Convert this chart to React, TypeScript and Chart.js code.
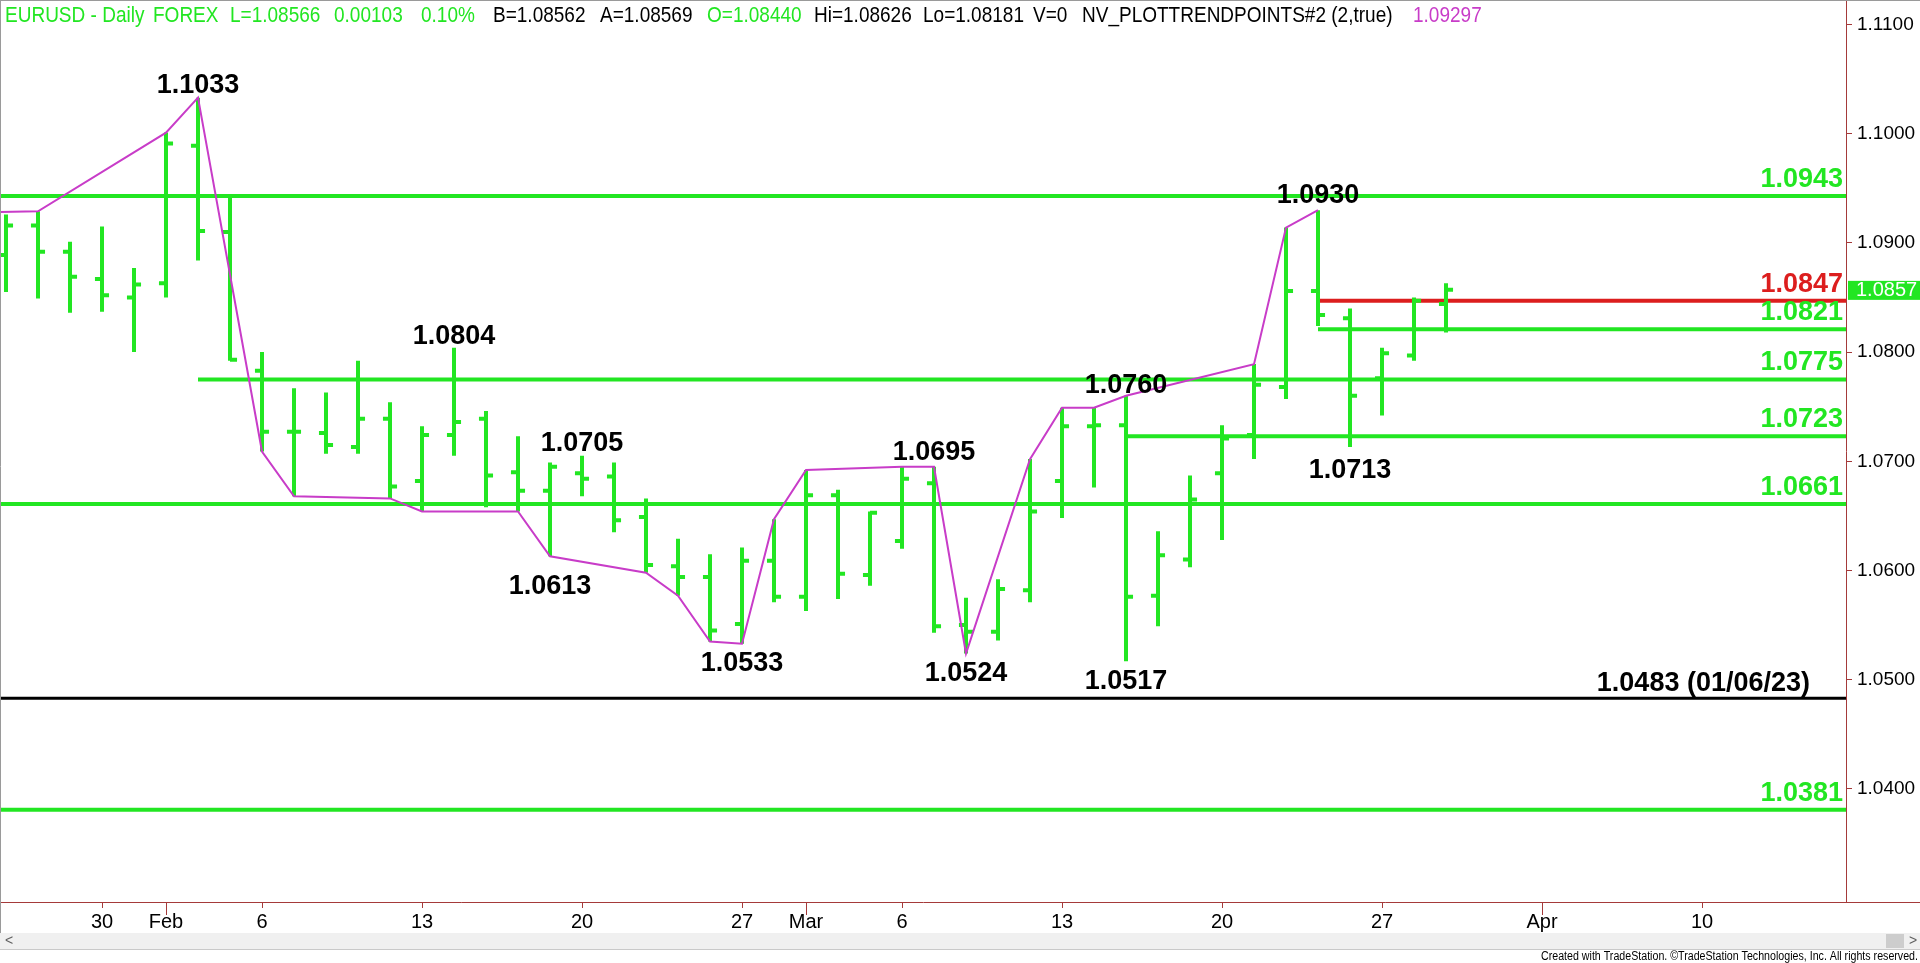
import React, { useEffect, useRef } from 'react';
import { Chart, registerables } from 'chart.js';

Chart.register(...registerables);

// ---------- data ----------
const dayLabels = ['Jan 25','Jan 26','Jan 27','Jan 30','Jan 31','Feb 1','Feb 2','Feb 3','Feb 6','Feb 7','Feb 8','Feb 9','Feb 10','Feb 13','Feb 14','Feb 15','Feb 16','Feb 17','Feb 20','Feb 21','Feb 22','Feb 23','Feb 24','Feb 27','Feb 28','Mar 1','Mar 2','Mar 3','Mar 6','Mar 7','Mar 8','Mar 9','Mar 10','Mar 13','Mar 14','Mar 15','Mar 16','Mar 17','Mar 20','Mar 21','Mar 22','Mar 23','Mar 24','Mar 27','Mar 28','Mar 29'];

const openPrices = [1.0889,1.0916,1.0892,1.0867,1.0850,1.0863,1.0989,1.0910,1.0783,1.0727,1.0726,1.0713,1.0739,1.0682,1.0724,1.0739,1.0690,1.0673,1.0689,1.0686,1.0649,1.0604,1.0594,1.0551,1.0609,1.0576,1.0669,1.0596,1.0627,1.0680,1.0550,1.0544,1.0582,1.0682,1.0732,1.0733,1.0577,1.0610,1.0689,1.0724,1.0768,1.0856,1.0831,1.0776,1.0797,1.0844];
const highPrices = [1.0926,1.0929,1.0901,1.0915,1.0877,1.1001,1.1033,1.0944,1.0800,1.0767,1.0763,1.0792,1.0754,1.0732,1.0804,1.0746,1.0723,1.0699,1.0705,1.0699,1.0666,1.0629,1.0615,1.0621,1.0647,1.0692,1.0674,1.0654,1.0695,1.0695,1.0575,1.0592,1.0702,1.0749,1.0749,1.0760,1.0636,1.0687,1.0733,1.0789,1.0914,1.0930,1.0840,1.0804,1.0850,1.0863];
const lowPrices = [1.0855,1.0849,1.0836,1.0837,1.0800,1.0850,1.0884,1.0792,1.0709,1.0668,1.0707,1.0707,1.0666,1.0654,1.0705,1.0658,1.0654,1.0613,1.0668,1.0635,1.0598,1.0577,1.0535,1.0533,1.0571,1.0563,1.0574,1.0586,1.0620,1.0543,1.0524,1.0536,1.0571,1.0648,1.0676,1.0517,1.0549,1.0603,1.0628,1.0702,1.0757,1.0824,1.0713,1.0742,1.0792,1.0818];
const closePrices = [1.0916,1.0892,1.0869,1.0852,1.0862,1.0991,1.0911,1.0793,1.0727,1.0727,1.0715,1.0739,1.0677,1.0724,1.0736,1.0687,1.0673,1.0695,1.0684,1.0646,1.0605,1.0594,1.0545,1.0609,1.0576,1.0669,1.0597,1.0653,1.0684,1.0549,1.0544,1.0583,1.0654,1.0732,1.0733,1.0576,1.0614,1.0665,1.0721,1.0770,1.0856,1.0834,1.0760,1.0799,1.0847,1.0857];

// trend-point line (bar index, price)
const trendIndex = [-1,1,5,6,8,9,12,13,16,17,20,21,22,23,24,25,28,29,30,32,33,34,35,39,40,41];
const trendValues = [1.0928,1.0929,1.1001,1.1033,1.0709,1.0668,1.0666,1.0654,1.0654,1.0613,1.0598,1.0577,1.0535,1.0533,1.0647,1.0692,1.0695,1.0695,1.0524,1.0702,1.0749,1.0749,1.0760,1.0789,1.0914,1.0930];

// horizontal levels
const levelValues = [1.0943,1.0847,1.0821,1.0775,1.0723,1.0661,1.0483,1.0381];
const levelStartIndex = [null,41,41,6,35,null,null,null];
const levelTexts = ['1.0943','1.0847','1.0821','1.0775','1.0723','1.0661','1.0483 (01/06/23)','1.0381'];

// swing point labels
const swingValues = [1.1033,1.0804,1.0705,1.0613,1.0533,1.0695,1.0524,1.0760,1.0517,1.0930,1.0713];
const swingIndex = [6,14,18,17,23,29,30,35,35,41,42];

// axes
const xTickIndex = [3,5,8,13,18,23,25,28,33,38,43,48,53];
const xTickLabels = ['30','Feb','6','13','20','27','Mar','6','13','20','27','Apr','10'];
const monthTickLabels = ['Feb','Mar','Apr'];
const yTickValues = [1.04,1.05,1.06,1.07,1.08,1.09,1.10,1.11];

// ---------- styles ----------
const GREEN = '#22e622';
const RED = '#dc1e1e';
const MAGENTA = '#c83cc8';
const AXIS = '#a53a3a';
const FONT = '"Liberation Sans", Arial, sans-serif';
const X_MIN = -0.1875;
const X_MAX = 57.5;
const Y_MAX = 1.112244;
const Y_MIN = 1.029644;
const TICK = 0.22;
const levelColors = [GREEN, RED, GREEN, GREEN, GREEN, GREEN, '#000000', GREEN];
const levelWidths = [4, 4, 4, 4, 4, 4, 3, 4];
const levelLabelDy = [-9, -9, -9, -9, -9, -9, -7, -9];
const levelLabelInset = [3, 3, 3, 3, 3, 3, 36, 3];
const swingDy = [-5, -4, -5, 38, 27, -7, 27, -3, 28, -7, 31];

const headerTokens: { x: number; t: string; c: string }[] = [
  { x: 5, t: 'EURUSD - Daily', c: GREEN },
  { x: 153, t: 'FOREX', c: GREEN },
  { x: 230, t: 'L=1.08566', c: GREEN },
  { x: 334, t: '0.00103', c: GREEN },
  { x: 421, t: '0.10%', c: GREEN },
  { x: 493, t: 'B=1.08562', c: '#000' },
  { x: 600, t: 'A=1.08569', c: '#000' },
  { x: 707, t: 'O=1.08440', c: GREEN },
  { x: 814, t: 'Hi=1.08626', c: '#000' },
  { x: 923, t: 'Lo=1.08181', c: '#000' },
  { x: 1033, t: 'V=0', c: '#000' },
  { x: 1082, t: 'NV_PLOTTRENDPOINTS#2 (2,true)', c: '#000' },
  { x: 1413, t: '1.09297', c: MAGENTA },
];

const annotPlugin = {
  id: 'annot',
  afterDatasetsDraw(chart: any) {
    const { ctx, chartArea, scales } = chart;
    const xs = scales.x;
    const ys = scales.y;
    ctx.save();
    ctx.font = `bold 27px ${FONT}`;
    ctx.textBaseline = 'alphabetic';
    ctx.textAlign = 'right';
    levelValues.forEach((v, k) => {
      ctx.fillStyle = levelColors[k];
      ctx.fillText(levelTexts[k], chartArea.right - levelLabelInset[k], ys.getPixelForValue(v) + levelLabelDy[k]);
    });
    ctx.textAlign = 'center';
    ctx.fillStyle = '#000';
    swingValues.forEach((v, k) => {
      ctx.fillText(v.toFixed(4), xs.getPixelForValue(swingIndex[k]), ys.getPixelForValue(v) + swingDy[k]);
    });
    ctx.restore();
  },
  afterDraw(chart: any) {
    const { ctx, chartArea, scales, width } = chart;
    const xs = scales.x;
    const ys = scales.y;
    ctx.save();
    // frame
    ctx.strokeStyle = '#9a9a9a';
    ctx.lineWidth = 1;
    ctx.beginPath();
    ctx.moveTo(0, 0.5); ctx.lineTo(width, 0.5);
    ctx.moveTo(0.5, 0); ctx.lineTo(0.5, 933);
    ctx.stroke();
    // axis line continues under price axis
    ctx.strokeStyle = AXIS;
    ctx.beginPath();
    ctx.moveTo(chartArea.right, chartArea.bottom + 0.5);
    ctx.lineTo(width, chartArea.bottom + 0.5);
    // longer month ticks
    xTickLabels.forEach((lab, i) => {
      if (monthTickLabels.includes(lab)) {
        const px = Math.round(xs.getPixelForValue(xTickIndex[i])) + 0.5;
        ctx.moveTo(px, chartArea.bottom);
        ctx.lineTo(px, chartArea.bottom + 13);
      }
    });
    ctx.stroke();
    // last price marker
    const last = closePrices[closePrices.length - 1];
    const py = ys.getPixelForValue(last);
    ctx.fillStyle = GREEN;
    ctx.fillRect(chartArea.right + 2, py - 9, width - chartArea.right - 2, 19);
    ctx.fillStyle = '#ffffff';
    ctx.font = `20px ${FONT}`;
    ctx.textAlign = 'left';
    ctx.textBaseline = 'middle';
    ctx.fillText(last.toFixed(4), chartArea.right + 10, py + 1);
    // copyright
    const txt = 'Created with TradeStation. \u00A9TradeStation Technologies, Inc. All rights reserved.';
    ctx.font = `12px ${FONT}`;
    ctx.fillStyle = '#000';
    const w = ctx.measureText(txt).width;
    ctx.translate(1918, 957);
    ctx.scale(377 / w, 1);
    ctx.textAlign = 'right';
    ctx.fillText(txt, 0, 0);
    ctx.restore();
  },
};

export default function App() {
  const ref = useRef<HTMLCanvasElement>(null);

  useEffect(() => {
    const canvas = ref.current;
    if (!canvas) return;
    Chart.defaults.font.family = FONT;

    const hl: any[] = [];
    const op: any[] = [];
    const cl: any[] = [];
    for (let i = 0; i < dayLabels.length; i++) {
      hl.push({ x: i, y: lowPrices[i] }, { x: i, y: highPrices[i] }, { x: i, y: null });
      op.push({ x: i - TICK, y: openPrices[i] }, { x: i, y: openPrices[i] }, { x: i, y: null });
      cl.push({ x: i, y: closePrices[i] }, { x: i + TICK, y: closePrices[i] }, { x: i + TICK, y: null });
    }

    const levelSets = levelValues.map((v, k) => ({
      label: levelTexts[k],
      data: [
        { x: levelStartIndex[k] ?? X_MIN, y: v },
        { x: X_MAX, y: v },
      ],
      borderColor: levelColors[k],
      borderWidth: levelWidths[k],
      pointRadius: 0,
      order: 3,
    }));

    const barStyle = {
      borderColor: GREEN,
      borderWidth: 4,
      pointRadius: 0,
      spanGaps: false,
      borderCapStyle: 'butt' as const,
      order: 1,
    };

    const chart = new Chart(canvas, {
      type: 'line',
      data: {
        datasets: [
          {
            label: 'Trend points',
            data: trendIndex.map((x, k) => ({ x, y: trendValues[k] })),
            borderColor: MAGENTA,
            borderWidth: 2,
            pointRadius: 0,
            order: 0,
          },
          { label: 'High-Low', data: hl, ...barStyle },
          { label: 'Open', data: op, ...barStyle },
          { label: 'Close', data: cl, ...barStyle },
          ...levelSets,
        ] as any,
      },
      options: {
        responsive: false,
        animation: false,
        devicePixelRatio: 1,
        events: [],
        layout: { padding: 0, autoPadding: false } as any,
        plugins: {
          legend: { display: false },
          tooltip: { enabled: false },
          title: { display: false },
        },
        elements: {
          point: { radius: 0 },
          line: { tension: 0, borderCapStyle: 'butt', borderJoinStyle: 'miter' },
        },
        scales: {
          x: {
            type: 'linear',
            position: 'bottom',
            min: X_MIN,
            max: X_MAX,
            afterBuildTicks: (s: any) => {
              s.ticks = xTickIndex.map((v) => ({ value: v }));
            },
            afterFit: (s: any) => {
              s.height = 61;
              s.paddingLeft = 0;
              s.paddingRight = 0;
              s.paddingTop = 0;
              s.paddingBottom = 0;
            },
            ticks: {
              autoSkip: false,
              maxRotation: 0,
              minRotation: 0,
              padding: 2,
              color: '#000',
              font: { size: 20, family: FONT },
              callback: (_v: any, i: number) => xTickLabels[i],
            },
            grid: {
              display: true,
              drawOnChartArea: false,
              drawTicks: true,
              tickLength: 6,
              tickColor: AXIS,
              tickWidth: 1,
            },
            border: { display: true, color: AXIS, width: 1 },
          },
          y: {
            type: 'linear',
            position: 'right',
            min: Y_MIN,
            max: Y_MAX,
            afterBuildTicks: (s: any) => {
              s.ticks = yTickValues.map((v) => ({ value: v }));
            },
            afterFit: (s: any) => {
              s.width = 74;
              s.paddingTop = 0;
              s.paddingBottom = 0;
              s.paddingLeft = 0;
              s.paddingRight = 0;
            },
            ticks: {
              padding: 5,
              color: '#000',
              font: { size: 19, family: FONT },
              callback: (v: any) => Number(v).toFixed(4),
            },
            grid: {
              display: true,
              drawOnChartArea: false,
              drawTicks: true,
              tickLength: 6,
              tickColor: AXIS,
              tickWidth: 1,
            },
            border: { display: true, color: AXIS, width: 1 },
          },
        },
      } as any,
      plugins: [annotPlugin],
    });

    return () => chart.destroy();
  }, []);

  return (
    <div
      style={{
        position: 'fixed',
        left: 0,
        top: 0,
        width: 1920,
        height: 963,
        background: '#ffffff',
        overflow: 'hidden',
        fontFamily: FONT,
      }}
    >
      <canvas ref={ref} width={1920} height={963} style={{ position: 'absolute', left: 0, top: 0, width: 1920, height: 963 }} />
      {headerTokens.map((tk, i) => (
        <span
          key={i}
          style={{
            position: 'absolute',
            left: tk.x,
            top: 4,
            fontSize: 22,
            lineHeight: '22px',
            color: tk.c,
            whiteSpace: 'nowrap',
            transform: 'scaleX(0.864)',
            transformOrigin: 'left top',
          }}
        >
          {tk.t}
        </span>
      ))}
      <div
        style={{
          position: 'absolute',
          left: 0,
          top: 933,
          width: 1920,
          height: 16,
          background: '#f0f0f0',
          borderBottom: '1px solid #c9c9c9',
        }}
      >
        <span style={{ position: 'absolute', left: 5, top: -1, fontSize: 14, color: '#606060' }}>&lt;</span>
        <div style={{ position: 'absolute', left: 1886, top: 1, width: 18, height: 14, background: '#cdcdcd' }} />
        <span style={{ position: 'absolute', left: 1909, top: -1, fontSize: 14, color: '#606060' }}>&gt;</span>
      </div>
    </div>
  );
}
